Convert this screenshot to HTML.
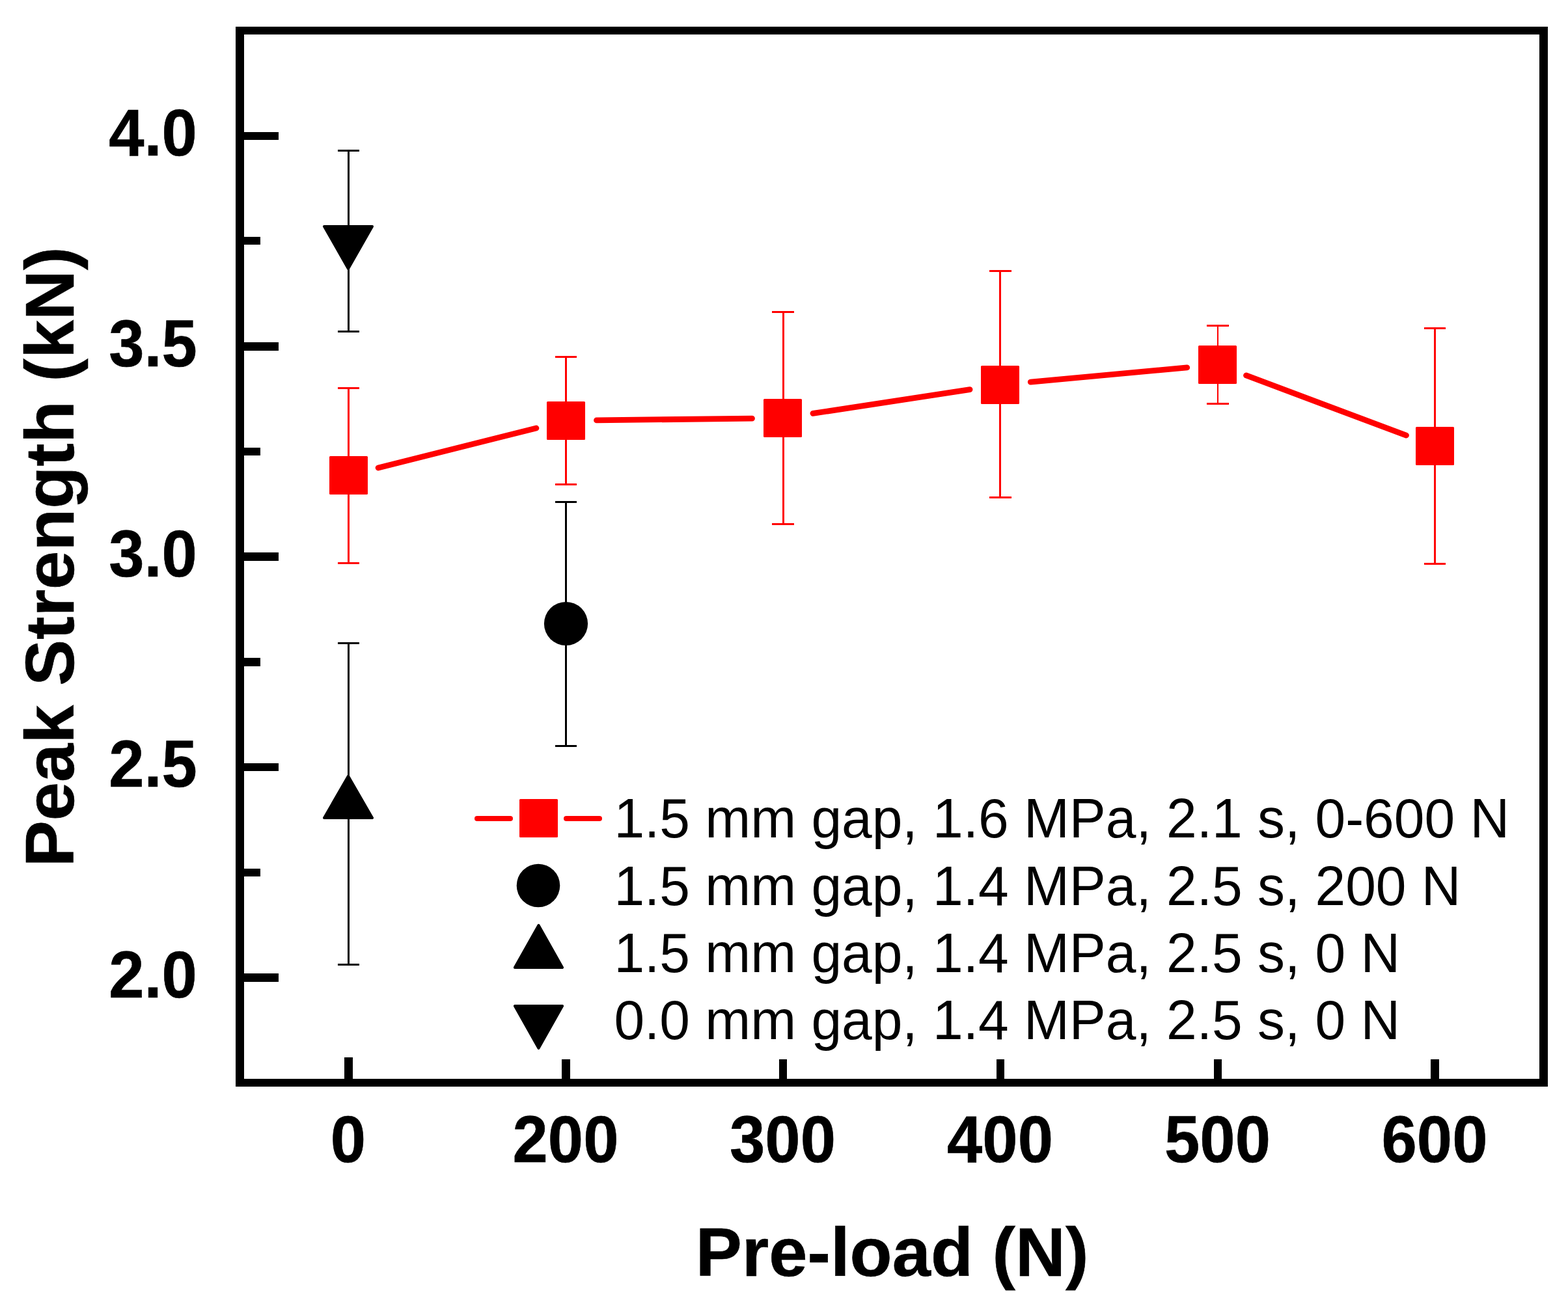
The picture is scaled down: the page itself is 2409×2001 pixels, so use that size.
<!DOCTYPE html>
<html lang="en"><head><meta charset="utf-8"><title>Peak Strength vs Pre-load</title>
<style>html,body{margin:0;padding:0;background:#fff;}body{width:2409px;height:2001px;}svg{display:block;}text{font-family:"Liberation Sans",sans-serif;fill:#000;}.tk{font-weight:bold;font-size:97.6px;stroke:#000;stroke-width:0.6px;}.ti{font-weight:bold;font-size:106.5px;stroke:#000;stroke-width:0.6px;}.lg{font-size:83.9px;}</style></head><body>
<svg width="2409" height="2001" viewBox="0 0 2409 2001" role="img" aria-label="Peak Strength (kN) versus Pre-load (N)">
<rect x="0" y="0" width="2409" height="2001" fill="#fff"/>
<g id="frame" shape-rendering="crispEdges">
<rect x="362" y="41" width="2016" height="12" fill="#000"/>
<rect x="362" y="1658" width="2016" height="12" fill="#000"/>
<rect x="362" y="41" width="13" height="1629" fill="#000"/>
<rect x="2365" y="41" width="13" height="1629" fill="#000"/>
</g>
<g id="yticks" shape-rendering="crispEdges">
<rect x="370" y="203" width="58" height="12" fill="#000"/>
<rect x="370" y="526" width="58" height="13" fill="#000"/>
<rect x="370" y="849" width="58" height="13" fill="#000"/>
<rect x="370" y="1173" width="58" height="12" fill="#000"/>
<rect x="370" y="1496" width="58" height="13" fill="#000"/>
<rect x="370" y="364" width="30" height="12" fill="#000"/>
<rect x="370" y="688" width="30" height="12" fill="#000"/>
<rect x="370" y="1011" width="30" height="13" fill="#000"/>
<rect x="370" y="1335" width="30" height="12" fill="#000"/>
</g>
<g id="xticks" shape-rendering="crispEdges">
<rect x="529" y="1625" width="13" height="39" fill="#000"/>
<rect x="863" y="1628" width="13" height="36" fill="#000"/>
<rect x="1197" y="1628" width="12" height="36" fill="#000"/>
<rect x="1531" y="1628" width="12" height="36" fill="#000"/>
<rect x="1865" y="1628" width="12" height="36" fill="#000"/>
<rect x="2198" y="1628" width="13" height="36" fill="#000"/>
</g>
<g class="tk" text-anchor="end">
<text transform="translate(302.8,239) scale(1,1.04)">4.0</text>
<text transform="translate(302.8,562.5) scale(1,1.04)">3.5</text>
<text transform="translate(302.8,885.5) scale(1,1.04)">3.0</text>
<text transform="translate(302.8,1209) scale(1,1.04)">2.5</text>
<text transform="translate(302.8,1532.5) scale(1,1.04)">2.0</text>
</g>
<g class="tk" text-anchor="middle">
<text transform="translate(535,1786) scale(1,1.04)">0</text>
<text transform="translate(869,1786) scale(1,1.04)">200</text>
<text transform="translate(1202.5,1786) scale(1,1.04)">300</text>
<text transform="translate(1536.5,1786) scale(1,1.04)">400</text>
<text transform="translate(1870.5,1786) scale(1,1.04)">500</text>
<text transform="translate(2204,1786) scale(1,1.04)">600</text>
</g>
<text class="ti" text-anchor="middle" transform="translate(1370.6,1961) scale(1,1)">Pre-load (N)</text>
<text class="ti" text-anchor="middle" transform="translate(113,855.9) rotate(-90) scale(1,1)">Peak Strength (kN)</text>
<g stroke="#f00" stroke-width="8.8" stroke-linecap="round" fill="none">
<line x1="581.08" y1="719.04" x2="823.92" y2="657.96"/>
<line x1="916.50" y1="645.94" x2="1155.50" y2="643.06"/>
<line x1="1248.96" y1="635.41" x2="1490.04" y2="598.59"/>
<line x1="1583.30" y1="587.16" x2="1823.70" y2="564.84"/>
<line x1="1914.52" y1="576.97" x2="2160.48" y2="669.03"/>
</g>
<g id="err" shape-rendering="crispEdges">
<rect x="519" y="595" width="33" height="3" fill="#f00"/>
<rect x="519" y="864" width="33" height="3" fill="#f00"/>
<rect x="534" y="595" width="3" height="272" fill="#f00"/>
<rect x="853" y="547" width="33" height="3" fill="#f00"/>
<rect x="853" y="743" width="33" height="3" fill="#f00"/>
<rect x="868" y="547" width="3" height="199" fill="#f00"/>
<rect x="1186" y="478" width="34" height="3" fill="#f00"/>
<rect x="1186" y="804" width="34" height="3" fill="#f00"/>
<rect x="1202" y="478" width="3" height="329" fill="#f00"/>
<rect x="1520" y="415" width="34" height="3" fill="#f00"/>
<rect x="1520" y="763" width="34" height="3" fill="#f00"/>
<rect x="1535" y="415" width="3" height="351" fill="#f00"/>
<rect x="1854" y="499" width="34" height="3" fill="#f00"/>
<rect x="1854" y="619" width="34" height="3" fill="#f00"/>
<rect x="1870" y="499" width="2.4" height="123" fill="#f00"/>
<rect x="2188" y="503" width="33" height="3" fill="#f00"/>
<rect x="2188" y="865" width="33" height="3" fill="#f00"/>
<rect x="2203" y="503" width="3" height="365" fill="#f00"/>
<rect x="519" y="230" width="33" height="3" fill="#000"/>
<rect x="519" y="508" width="33" height="3" fill="#000"/>
<rect x="534" y="230" width="3" height="281" fill="#000"/>
<rect x="853" y="770" width="33" height="3" fill="#000"/>
<rect x="853" y="1145" width="33" height="3" fill="#000"/>
<rect x="868" y="770" width="3" height="378" fill="#000"/>
<rect x="519" y="987" width="33" height="3" fill="#000"/>
<rect x="519" y="1481" width="33" height="3" fill="#000"/>
<rect x="534" y="987" width="3" height="497" fill="#000"/>
</g>
<g id="sq" fill="#f00">
<rect x="506" y="701" width="59" height="59" rx="1.5" ry="1.5"/>
<rect x="840" y="617" width="59" height="59" rx="1.5" ry="1.5"/>
<rect x="1173" y="613" width="59" height="59" rx="1.5" ry="1.5"/>
<rect x="1507" y="562" width="59" height="59" rx="1.5" ry="1.5"/>
<rect x="1841" y="531" width="59" height="59" rx="1.5" ry="1.5"/>
<rect x="2175" y="656" width="59" height="59" rx="1.5" ry="1.5"/>
<rect x="798" y="1228" width="59" height="59" rx="1.5" ry="1.5"/>
</g>
<g id="blk" fill="#000" stroke="#000" stroke-width="4" stroke-linejoin="round">
<polygon points="498,348 572,348 535,413"/>
<polygon points="535,1192.7 572,1257 498,1257"/>
<polygon points="827.5,1422 864.1,1487 790.9,1487"/>
<polygon points="790.9,1546 864.1,1546 827.5,1611"/>
</g>
<circle cx="869.5" cy="958.5" r="33.6" fill="#000"/>
<circle cx="827" cy="1361" r="33.3" fill="#000"/>
<g stroke="#f00" stroke-width="8" stroke-linecap="round"><line x1="733" y1="1258" x2="784" y2="1258"/><line x1="870" y1="1258" x2="921" y2="1258"/></g>
<g class="lg">
<text transform="translate(943.4,1287) scale(1,1.02)">1.5 mm gap, 1.6 MPa, 2.1 s, 0-600 N</text>
<text transform="translate(943.4,1391) scale(1,1.02)">1.5 mm gap, 1.4 MPa, 2.5 s, 200 N</text>
<text transform="translate(943.4,1494) scale(1,1.02)">1.5 mm gap, 1.4 MPa, 2.5 s, 0 N</text>
<text transform="translate(943.4,1597) scale(1,1.02)">0.0 mm gap, 1.4 MPa, 2.5 s, 0 N</text>
</g>
</svg></body></html>
